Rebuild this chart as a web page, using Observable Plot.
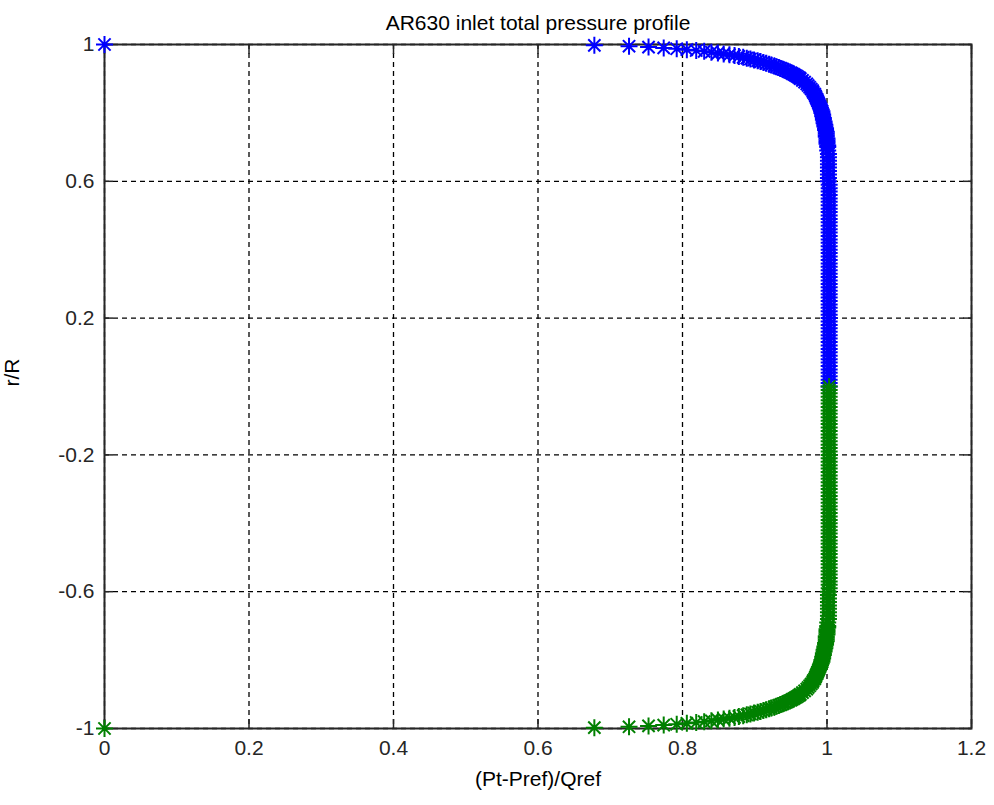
<!DOCTYPE html>
<html>
<head>
<meta charset="utf-8">
<script src="https://cdn.jsdelivr.net/npm/d3@7"></script>
<script src="https://cdn.jsdelivr.net/npm/@observablehq/plot@0.6"></script>
<style>
  html, body { margin: 0; padding: 0; background: #fff; }
  #chart svg { display: block; }
</style>
</head>
<body>
<div id="chart"></div>
<script>
// ---- Data ----
const titleText = "AR630 inlet total pressure profile";
const xLabel = "(Pt-Pref)/Qref";
const yLabel = "r/R";
const xTicks = [0, 0.2, 0.4, 0.6, 0.8, 1, 1.2];
const yTicks = [-1, -0.6, -0.2, 0.2, 0.6, 1];

// upper half (blue): r/R and (Pt-Pref)/Qref
const blueR = [
  1, 0.9975, 0.995, 0.9925, 0.99, 0.9875, 0.985, 0.9825, 0.98, 0.9775,
  0.975, 0.9725, 0.97, 0.9675, 0.965, 0.9625, 0.96, 0.9575, 0.955, 0.9525,
  0.95, 0.9475, 0.945, 0.9425, 0.94, 0.9375, 0.935, 0.9325, 0.93, 0.9275,
  0.925, 0.9225, 0.92, 0.9175, 0.915, 0.9125, 0.91, 0.9075, 0.905, 0.9025,
  0.90, 0.895, 0.89, 0.885, 0.88, 0.875, 0.87, 0.865, 0.86, 0.855,
  0.85, 0.845, 0.84, 0.835, 0.83, 0.825, 0.82, 0.815, 0.81, 0.805,
  0.80, 0.795, 0.79, 0.785, 0.78, 0.775, 0.77, 0.765, 0.76, 0.755,
  0.75, 0.745, 0.74, 0.735, 0.73, 0.725, 0.72, 0.715, 0.71, 0.705,
  0.70, 0.69, 0.68, 0.67, 0.66, 0.65, 0.64, 0.63, 0.62, 0.61,
  0.60, 0.59, 0.58, 0.57, 0.56, 0.55, 0.54, 0.53, 0.52, 0.51,
  0.50, 0.49, 0.48, 0.47, 0.46, 0.45, 0.44, 0.43, 0.42, 0.41,
  0.40, 0.39, 0.38, 0.37, 0.36, 0.35, 0.34, 0.33, 0.32, 0.31,
  0.30, 0.29, 0.28, 0.27, 0.26, 0.25, 0.24, 0.23, 0.22, 0.21,
  0.20, 0.19, 0.18, 0.17, 0.16, 0.15, 0.14, 0.13, 0.12, 0.11,
  0.10, 0.09, 0.08, 0.07, 0.06, 0.05, 0.04, 0.03, 0.02, 0.01,
  0.00
];
const blueP = [
  0, 0.678, 0.726, 0.753, 0.774, 0.792, 0.806, 0.819, 0.830, 0.840,
  0.849, 0.857, 0.865, 0.872, 0.878, 0.884, 0.889, 0.894, 0.899, 0.904,
  0.908, 0.912, 0.916, 0.920, 0.923, 0.927, 0.930, 0.933, 0.936, 0.939,
  0.942, 0.945, 0.947, 0.950, 0.952, 0.954, 0.956, 0.958, 0.960, 0.962,
  0.963, 0.966, 0.969, 0.972, 0.974, 0.976, 0.978, 0.980, 0.981, 0.983,
  0.984, 0.985, 0.986, 0.987, 0.988, 0.989, 0.990, 0.991, 0.992, 0.993,
  0.993, 0.994, 0.994, 0.995, 0.995, 0.996, 0.996, 0.997, 0.997, 0.998,
  0.998, 0.999, 0.999, 0.999, 0.999, 1.000, 1.000, 1.000, 1.000, 1.001,
  1.001, 1.001, 1.002, 1.002, 1.002, 1.002, 1.002, 1.002, 1.002, 1.002,
  1.002, 1.003, 1.003, 1.003, 1.003, 1.003, 1.003, 1.003, 1.003, 1.003,
  1.003, 1.003, 1.003, 1.003, 1.003, 1.003, 1.003, 1.003, 1.003, 1.003,
  1.003, 1.003, 1.003, 1.003, 1.003, 1.003, 1.003, 1.003, 1.003, 1.003,
  1.003, 1.003, 1.003, 1.003, 1.003, 1.003, 1.003, 1.003, 1.003, 1.003,
  1.003, 1.003, 1.003, 1.003, 1.003, 1.003, 1.003, 1.003, 1.003, 1.003,
  1.003, 1.003, 1.003, 1.003, 1.003, 1.003, 1.003, 1.003, 1.003, 1.003,
  1.003
];

// lower half (green)
const greenR = [
  -1, -0.9975, -0.995, -0.9925, -0.99, -0.9875, -0.985, -0.9825, -0.98, -0.9775,
  -0.975, -0.9725, -0.97, -0.9675, -0.965, -0.9625, -0.96, -0.9575, -0.955, -0.9525,
  -0.95, -0.9475, -0.945, -0.9425, -0.94, -0.9375, -0.935, -0.9325, -0.93, -0.9275,
  -0.925, -0.9225, -0.92, -0.9175, -0.915, -0.9125, -0.91, -0.9075, -0.905, -0.9025,
  -0.90, -0.895, -0.89, -0.885, -0.88, -0.875, -0.87, -0.865, -0.86, -0.855,
  -0.85, -0.845, -0.84, -0.835, -0.83, -0.825, -0.82, -0.815, -0.81, -0.805,
  -0.80, -0.795, -0.79, -0.785, -0.78, -0.775, -0.77, -0.765, -0.76, -0.755,
  -0.75, -0.745, -0.74, -0.735, -0.73, -0.725, -0.72, -0.715, -0.71, -0.705,
  -0.70, -0.69, -0.68, -0.67, -0.66, -0.65, -0.64, -0.63, -0.62, -0.61,
  -0.60, -0.59, -0.58, -0.57, -0.56, -0.55, -0.54, -0.53, -0.52, -0.51,
  -0.50, -0.49, -0.48, -0.47, -0.46, -0.45, -0.44, -0.43, -0.42, -0.41,
  -0.40, -0.39, -0.38, -0.37, -0.36, -0.35, -0.34, -0.33, -0.32, -0.31,
  -0.30, -0.29, -0.28, -0.27, -0.26, -0.25, -0.24, -0.23, -0.22, -0.21,
  -0.20, -0.19, -0.18, -0.17, -0.16, -0.15, -0.14, -0.13, -0.12, -0.11,
  -0.10, -0.09, -0.08, -0.07, -0.06, -0.05, -0.04, -0.03, -0.02, -0.01,
  0.00
];
const greenP = [
  0, 0.678, 0.726, 0.753, 0.774, 0.792, 0.806, 0.819, 0.830, 0.840,
  0.849, 0.857, 0.865, 0.872, 0.878, 0.884, 0.889, 0.894, 0.899, 0.904,
  0.908, 0.912, 0.916, 0.920, 0.923, 0.927, 0.930, 0.933, 0.936, 0.939,
  0.942, 0.945, 0.947, 0.950, 0.952, 0.954, 0.956, 0.958, 0.960, 0.962,
  0.963, 0.966, 0.969, 0.972, 0.974, 0.976, 0.978, 0.980, 0.981, 0.983,
  0.984, 0.985, 0.986, 0.987, 0.988, 0.989, 0.990, 0.991, 0.992, 0.993,
  0.993, 0.994, 0.994, 0.995, 0.995, 0.996, 0.996, 0.997, 0.997, 0.998,
  0.998, 0.999, 0.999, 0.999, 0.999, 1.000, 1.000, 1.000, 1.000, 1.001,
  1.001, 1.001, 1.002, 1.002, 1.002, 1.002, 1.002, 1.002, 1.002, 1.002,
  1.002, 1.003, 1.003, 1.003, 1.003, 1.003, 1.003, 1.003, 1.003, 1.003,
  1.003, 1.003, 1.003, 1.003, 1.003, 1.003, 1.003, 1.003, 1.003, 1.003,
  1.003, 1.003, 1.003, 1.003, 1.003, 1.003, 1.003, 1.003, 1.003, 1.003,
  1.003, 1.003, 1.003, 1.003, 1.003, 1.003, 1.003, 1.003, 1.003, 1.003,
  1.003, 1.003, 1.003, 1.003, 1.003, 1.003, 1.003, 1.003, 1.003, 1.003,
  1.003, 1.003, 1.003, 1.003, 1.003, 1.003, 1.003, 1.003, 1.003, 1.003,
  1.003
];

// ---- Build tables ----
const blue = blueR.map((r, i) => ({r, p: blueP[i]})).filter(d => d.p !== undefined);
const green = greenR.map((r, i) => ({r, p: greenP[i]})).filter(d => d.p !== undefined);

// MATLAB-like 8-armed asterisk marker
const asterisk = {
  draw(context, size) {
    const r = Math.sqrt(size / Math.PI);
    const d = r * 0.72;
    context.moveTo(-r, 0); context.lineTo(r, 0);
    context.moveTo(0, -r); context.lineTo(0, r);
    context.moveTo(-d, -d); context.lineTo(d, d);
    context.moveTo(-d, d); context.lineTo(d, -d);
  }
};

const font = "'Liberation Sans', Arial, Helvetica, sans-serif";
const fs = 21;
const axisColor = "#262626";

const chart = Plot.plot({
  width: 994,
  height: 805,
  marginLeft: 104,
  marginRight: 23,
  marginTop: 44,
  marginBottom: 77,
  style: {fontFamily: font, fontSize: fs + "px", color: axisColor, background: "#fff"},
  x: {domain: [0, 1.2], axis: null},
  y: {domain: [-1, 1], axis: null},
  marks: [
    // dashed grid
    Plot.ruleX(xTicks, {stroke: "#000", strokeWidth: 1.3, strokeDasharray: "5,4"}),
    Plot.ruleY(yTicks, {stroke: "#000", strokeWidth: 1.3, strokeDasharray: "5,4"}),
    // inward ticks on all four sides
    Plot.axisX(xTicks, {anchor: "bottom", tickSize: 9, dy: -9, text: null, label: null, stroke: axisColor, strokeWidth: 1.5}),
    Plot.axisX(xTicks, {anchor: "top", tickSize: 9, dy: 9, text: null, label: null, stroke: axisColor, strokeWidth: 1.5}),
    Plot.axisY(yTicks, {anchor: "left", tickSize: 9, dx: 9, text: null, label: null, stroke: axisColor, strokeWidth: 1.5}),
    Plot.axisY(yTicks, {anchor: "right", tickSize: 9, dx: -9, text: null, label: null, stroke: axisColor, strokeWidth: 1.5}),
    // tick labels
    Plot.axisX(xTicks, {anchor: "bottom", tickSize: 0, tickPadding: 12, tickFormat: d => String(d), label: null, fontSize: fs, fill: axisColor}),
    Plot.axisY(yTicks, {anchor: "left", tickSize: 0, tickPadding: 10, tickFormat: d => String(d), label: null, fontSize: fs, fill: axisColor}),
    // frame
    Plot.frame({stroke: axisColor, strokeWidth: 2}),
    // data
    Plot.dot(blue, {x: "p", y: "r", symbol: asterisk, r: 8.5, stroke: "#0000ff", fill: "none", strokeWidth: 2}),
    Plot.dot(green, {x: "p", y: "r", symbol: asterisk, r: 8.5, stroke: "#008000", fill: "none", strokeWidth: 2}),
    // title and axis labels
    Plot.text([titleText], {text: d => d, frameAnchor: "top", dy: -29, fontSize: fs, fill: "#000"}),
    Plot.text([xLabel], {text: d => d, frameAnchor: "bottom", dy: 57, fontSize: fs, fill: "#000"}),
    Plot.text([yLabel], {text: d => d, frameAnchor: "left", dx: -92, rotate: -90, fontSize: fs, fill: "#000"})
  ]
});
document.getElementById("chart").appendChild(chart);
</script>
</body>
</html>
